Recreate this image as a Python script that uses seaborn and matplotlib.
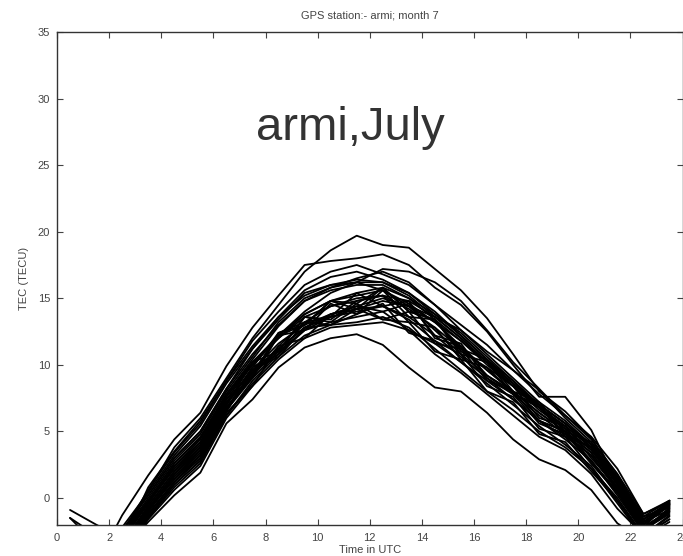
import numpy as np
import pandas as pd
import matplotlib
matplotlib.use("Agg")
import matplotlib.pyplot as plt
import seaborn as sns

hours = [0.5, 1.5, 2.5, 3.5, 4.5, 5.5, 6.5, 7.5, 8.5, 9.5, 10.5, 11.5,
         12.5, 13.5, 14.5, 15.5, 16.5, 17.5, 18.5, 19.5, 20.5, 21.5, 22.5, 23.5]

day01 = [-0.9, -2.0, -3.0, 0.5, 3.8, 6.0, 9.0, 12.0, 14.5, 17.0, 18.6, 19.7, 19.0, 18.8, 17.2, 15.6, 13.5, 10.8, 8.0, 6.5, 4.5, 1.5, -1.6, -0.6]
day02 = [-4.5, -5.0, -1.3, 1.7, 4.4, 6.4, 9.9, 12.8, 15.2, 17.5, 17.8, 18.0, 18.3, 17.5, 15.8, 14.5, 12.5, 10.0, 7.6, 7.6, 5.1, 1.1, -2.2, -0.3]
day03 = [-5.0, -4.5, -3.5, 0.8, 3.5, 5.8, 8.8, 11.8, 14.0, 16.0, 17.0, 17.5, 16.8, 16.0, 14.5, 13.0, 11.5, 9.6, 8.1, 6.0, 4.2, 1.8, -1.8, -0.9]
day04 = [-6.0, -5.5, -4.0, -1.8, 0.2, 1.9, 5.6, 7.4, 9.8, 11.3, 12.0, 12.3, 11.5, 9.8, 8.3, 8.0, 6.4, 4.4, 2.9, 2.1, 0.6, -1.9, -3.2, -2.4]
day05 = [-1.5, -3.5, -4.2, -1.0, 1.8, 3.6, 7.0, 9.8, 12.4, 13.2, 13.6, 15.4, 14.4, 14.8, 12.0, 11.4, 9.2, 8.0, 5.8, 5.0, 2.8, 0.5, -2.4, -0.8]
day06 = [-4.0, -4.8, -3.0, -0.2, 2.6, 4.5, 7.8, 10.4, 12.9, 14.8, 15.6, 16.0, 16.0, 15.0, 13.4, 11.8, 10.0, 8.4, 6.8, 5.2, 3.6, 1.2, -1.8, -0.5]
day07 = [-5.5, -6.0, -4.5, -1.2, 1.2, 3.0, 6.5, 9.6, 10.6, 12.8, 13.0, 13.8, 14.6, 12.4, 11.8, 10.8, 8.4, 7.6, 5.2, 4.6, 2.2, 0.0, -2.8, -1.6]
day08 = [-3.8, -4.2, -2.6, 0.2, 3.0, 5.0, 8.2, 10.8, 13.0, 14.8, 15.8, 16.5, 17.0, 16.2, 14.5, 12.6, 10.8, 9.0, 7.2, 5.8, 4.0, 1.6, -1.4, -0.2]
day09 = [-5.2, -5.6, -3.8, -0.6, 2.0, 4.0, 7.2, 9.2, 12.4, 13.0, 14.8, 14.2, 15.8, 14.0, 13.4, 11.0, 9.8, 8.4, 6.0, 5.4, 3.0, 0.8, -2.2, -1.0]
day10 = [-4.6, -5.2, -3.6, -0.8, 1.6, 3.4, 6.8, 9.2, 11.2, 12.8, 13.6, 14.0, 14.4, 13.6, 12.2, 10.6, 9.0, 7.4, 5.8, 4.4, 2.8, 0.2, -2.6, -0.7]
day11 = [-6.2, -6.4, -4.6, -1.5, 0.8, 2.6, 6.2, 8.6, 10.6, 12.2, 13.0, 13.2, 13.6, 12.8, 11.2, 9.6, 8.0, 6.6, 5.0, 3.8, 2.2, -0.4, -3.0, -1.8]
day12 = [-3.2, -3.8, -2.2, 0.4, 3.2, 5.4, 8.6, 11.2, 13.6, 15.6, 16.6, 17.0, 16.4, 15.4, 13.8, 12.2, 10.4, 8.8, 7.0, 5.6, 4.0, 1.4, -1.6, -0.4]
day13 = [-5.8, -6.0, -4.2, -1.4, 1.0, 2.8, 6.4, 8.4, 11.4, 12.0, 13.8, 14.4, 14.0, 14.6, 12.2, 11.6, 9.0, 7.8, 5.6, 4.8, 2.6, 0.4, -2.4, -1.2]
day14 = [-4.4, -4.6, -3.2, -0.4, 2.4, 4.2, 7.6, 10.2, 12.2, 13.8, 14.8, 15.2, 15.6, 14.4, 12.6, 10.8, 9.2, 7.8, 6.2, 4.8, 3.2, 0.6, -2.0, -0.6]
day15 = [-5.0, -5.4, -3.4, -0.8, 1.4, 3.2, 6.6, 9.0, 11.0, 12.6, 13.2, 13.6, 14.0, 12.6, 10.8, 9.4, 7.8, 6.2, 4.6, 3.6, 1.8, -0.8, -2.8, -1.4]
day16 = [-4.2, -4.8, -3.0, -0.2, 2.2, 4.0, 7.4, 10.0, 12.2, 14.0, 15.4, 16.2, 17.2, 17.0, 16.2, 14.8, 12.6, 10.2, 8.2, 6.2, 4.6, 2.2, -1.2, -0.2]
day17 = [-5.4, -5.8, -4.0, -1.0, 1.6, 3.6, 7.0, 10.2, 11.0, 13.6, 13.4, 14.8, 15.2, 13.2, 12.8, 10.4, 9.8, 7.8, 6.8, 4.8, 3.8, 1.0, -2.0, -0.5]
day18 = [-3.6, -4.4, -2.8, 0.0, 2.8, 4.8, 8.0, 10.6, 13.2, 15.0, 15.8, 16.2, 16.2, 15.4, 14.0, 12.2, 10.4, 8.6, 6.8, 5.4, 3.8, 1.4, -1.6, -0.3]
day19 = [-6.0, -6.2, -4.4, -1.6, 0.6, 2.4, 6.0, 8.4, 10.4, 12.0, 12.8, 13.0, 13.2, 12.6, 11.6, 10.2, 8.6, 7.0, 5.4, 4.0, 2.4, -0.2, -2.9, -1.6]
day20 = [-4.8, -5.0, -3.4, -0.6, 2.0, 3.8, 7.2, 9.0, 12.2, 12.6, 14.6, 13.8, 15.6, 13.6, 13.4, 11.2, 10.4, 8.0, 7.2, 5.0, 4.2, 1.2, -1.8, -0.6]
day21 = [-5.6, -6.0, -4.2, -1.2, 1.2, 3.0, 6.6, 9.2, 11.4, 13.2, 14.4, 15.0, 15.2, 14.2, 12.8, 11.2, 9.6, 8.0, 6.4, 5.0, 3.4, 0.8, -2.4, -1.0]
day22 = [-4.0, -4.4, -2.8, -0.2, 2.6, 4.6, 7.8, 10.2, 12.0, 13.6, 14.4, 14.8, 15.2, 14.8, 13.6, 12.0, 10.2, 8.4, 6.6, 5.2, 3.6, 1.0, -2.0, -0.4]
day23 = [-5.2, -5.6, -3.8, -0.8, 1.8, 3.8, 7.0, 9.8, 11.0, 13.6, 13.2, 14.6, 13.4, 14.0, 11.6, 11.2, 8.8, 8.0, 5.8, 5.0, 2.6, 0.4, -2.6, -0.8]
day24 = [-3.8, -4.0, -2.4, 0.2, 3.0, 5.0, 8.2, 11.2, 13.4, 15.4, 16.0, 16.2, 15.6, 14.6, 13.2, 11.4, 9.6, 8.0, 6.4, 5.0, 3.4, 0.8, -2.0, -0.2]
day25 = [-6.0, -6.2, -4.6, -1.4, 1.0, 2.8, 6.2, 8.8, 10.8, 12.6, 13.6, 14.2, 14.8, 14.4, 13.2, 11.8, 10.2, 8.6, 7.0, 5.6, 4.0, 1.6, -1.4, -0.7]
day26 = [-4.4, -5.0, -3.2, -0.4, 2.2, 4.2, 7.4, 9.4, 12.2, 13.0, 14.8, 14.6, 15.8, 14.0, 13.4, 10.8, 10.2, 7.8, 7.0, 4.6, 3.8, 0.6, -2.2, -0.9]
day27 = [-5.0, -5.2, -3.6, -1.0, 1.4, 3.4, 6.8, 9.4, 11.2, 12.8, 13.8, 14.4, 15.0, 14.4, 13.6, 12.6, 11.0, 9.6, 7.8, 6.2, 4.4, 1.8, -1.2, -0.3]
day28 = [-4.2, -4.6, -3.0, -0.4, 2.4, 4.4, 7.6, 10.0, 12.0, 13.8, 14.8, 15.4, 15.8, 15.0, 13.8, 12.4, 10.6, 8.8, 7.0, 5.6, 3.8, 1.2, -1.8, -0.5]
day29 = [-5.6, -5.8, -4.0, -1.2, 1.2, 3.2, 6.6, 9.6, 10.8, 13.2, 13.0, 14.2, 13.4, 13.2, 11.0, 10.4, 8.0, 7.2, 4.8, 4.2, 2.0, -0.2, -2.8, -1.3]
day30 = [-3.4, -4.0, -2.6, 0.6, 3.4, 5.6, 8.8, 11.4, 13.6, 15.2, 16.0, 16.4, 16.2, 15.2, 13.6, 12.0, 10.2, 8.6, 6.8, 5.4, 3.8, 1.2, -1.6, -0.4]
day31 = [-1.5, -2.8, -3.8, -0.8, 1.8, 3.8, 7.2, 9.6, 11.6, 13.0, 13.8, 14.2, 14.4, 13.4, 11.8, 10.2, 8.8, 7.4, 5.8, 4.6, 3.2, 0.6, -2.4, -1.1]

days = [day01, day02, day03, day04, day05, day06, day07, day08, day09, day10,
        day11, day12, day13, day14, day15, day16, day17, day18, day19, day20,
        day21, day22, day23, day24, day25, day26, day27, day28, day29, day30, day31]

x_ticks = [0, 2, 4, 6, 8, 10, 12, 14, 16, 18, 20, 22, 24]
y_ticks = [0, 5, 10, 15, 20, 25, 30, 35]

title_text = "GPS station:- armi; month 7"
annot_text = "armi,July"

rows = []
for i, d in enumerate(days):
    for h, v in zip(hours, d):
        rows.append({"day": i + 1, "time": h, "tec": v})
df = pd.DataFrame(rows)

sns.set_style("white")
plt.rcParams['font.family'] = ['Liberation Sans', 'DejaVu Sans']

fig = plt.figure(figsize=(6.83, 5.56), dpi=100)
ax = fig.add_axes([57 / 683, 1 - 524.6 / 556, (682.5 - 57) / 683, (524.6 - 32) / 556])

sns.lineplot(data=df, x="time", y="tec", units="day", estimator=None,
             color="black", linewidth=1.3, ax=ax, legend=False)

ax.set_xlim(0, 24)
ax.set_ylim(-2, 35)
ax.set_xticks(x_ticks)
ax.set_yticks(y_ticks)
ax.set_xticklabels([str(t) for t in x_ticks])
ax.set_yticklabels([str(t) for t in y_ticks])
ax.tick_params(direction="in", length=4, width=0.8, color="#444444",
               labelsize=8, labelcolor="#444444", top=True, right=True,
               bottom=True, left=True)
ax.tick_params(axis="x", pad=6)
ax.tick_params(axis="y", pad=5)
for s in ax.spines.values():
    s.set_color("#333333")
    s.set_linewidth(1.0)

ax.set_xlabel("Time in UTC", fontsize=8, color="#444444", labelpad=1.5)
ax.set_ylabel("TEC (TECU)", fontsize=8, color="#444444", labelpad=6)
ax.set_title(title_text, fontsize=8, color="#444444", pad=10)

ax.text(11.25, 26.9, annot_text, ha="center", va="baseline",
        fontsize=34, color="#333333")

fig.savefig("out.png", dpi=100)
